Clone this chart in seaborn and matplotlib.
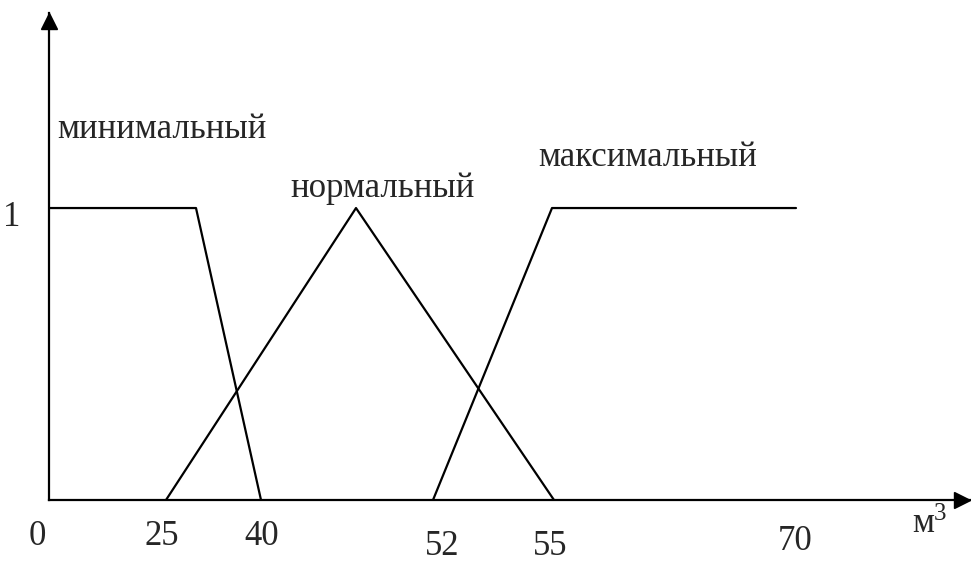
import matplotlib
matplotlib.use("Agg")
import matplotlib.pyplot as plt
import numpy as np
import pandas as pd
import seaborn as sns

# breakpoints of the membership functions (schematic axis units)
min_x = [0, 14.7, 21.2]
min_y = [1, 1, 0]
norm_x = [11.7, 30.7, 50.5]
norm_y = [0, 1, 0]
max_x = [38.4, 50.3, 74.7]
max_y = [0, 1, 1]

set_names = ["минимальный", "нормальный", "максимальный"]
tick_labels = ["0", "25", "40", "52", "55", "70"]
tick_pos = [-1.2, 11.3, 21.3, 39.3, 50.1, 74.6]
tick_base = [-0.154, -0.154, -0.154, -0.188, -0.188, -0.171]

sns.set_style("white")
plt.rcParams["font.family"] = ["Liberation Serif", "DejaVu Serif"]

frames = []
for name, xs, ys in zip(set_names, [min_x, norm_x, max_x], [min_y, norm_y, max_y]):
    frames.append(pd.DataFrame({"set": name, "x": xs, "y": ys}))
df = pd.concat(frames, ignore_index=True)

fig = plt.figure(figsize=(9.71, 5.61), dpi=100)
ax = fig.add_axes([49 / 971, 61 / 561, 922 / 971, 487 / 561])

sns.lineplot(data=df, x="x", y="y", units="set", estimator=None, sort=False,
             color="black", lw=1.6, ax=ax, legend=False)

ax.set_xlim(0, 92.2)
ax.set_ylim(0, 1.668)
ax.set_xticks([])
ax.set_yticks([])
ax.set_xlabel("")
ax.set_ylabel("")
for s in ["top", "right"]:
    ax.spines[s].set_visible(False)
for s in ["left", "bottom"]:
    ax.spines[s].set_color("black")
    ax.spines[s].set_linewidth(1.6)

# axis arrows
ax.plot(91.3, 0, ">", color="black", ms=11, clip_on=False)
ax.plot(0, 1.642, "^", color="black", ms=11, clip_on=False)

fs = 25
ax.text(-3.7, 0.938, "1", fontsize=fs, ha="center", va="baseline")
ax.text(0.8, 1.240, set_names[0], fontsize=fs, ha="left", va="baseline")
ax.text(24.1, 1.038, set_names[1], fontsize=fs, ha="left", va="baseline")
ax.text(48.9, 1.144, set_names[2], fontsize=fs, ha="left", va="baseline")

for lab, xp, yb in zip(tick_labels, tick_pos, tick_base):
    ax.text(xp, yb, lab, fontsize=fs, ha="center", va="baseline")

ax.text(87.4, -0.110, "м", fontsize=fs, ha="center", va="baseline")
ax.text(89.1, -0.068, "3", fontsize=18, ha="center", va="baseline")

fig.savefig("out.png", dpi=100)
